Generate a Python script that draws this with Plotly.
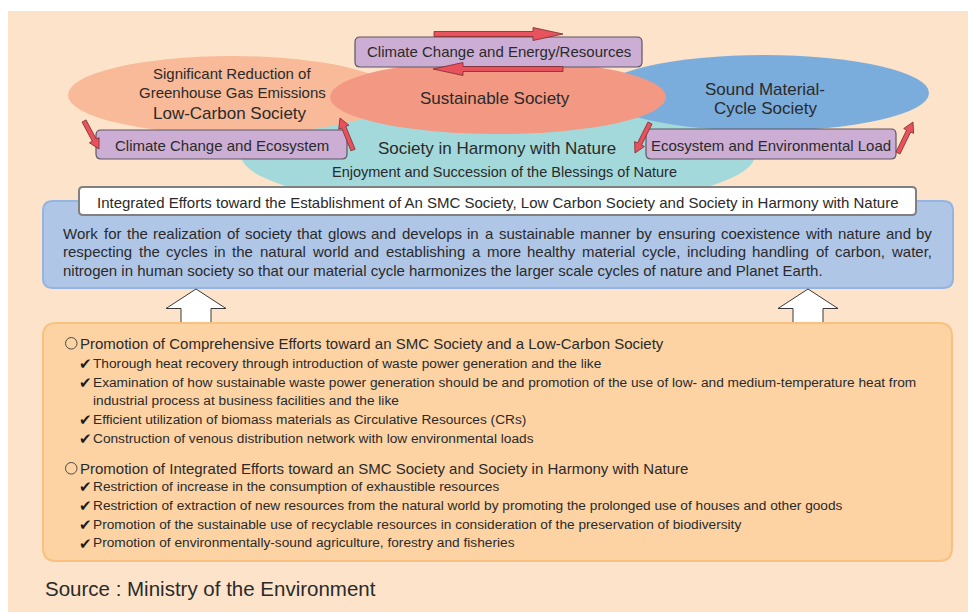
import math
import plotly.graph_objects as go

W, H = 976, 612
OFF = 8  # default page margin of the html body
FONT = "Liberation Sans, Arial, Helvetica, sans-serif"
TXT = "#2a2a2a"

# ---------------- text content ----------------
ellipse_labels = ["Significant Reduction of", "Greenhouse Gas Emissions", "Low-Carbon Society",
                  "Sustainable Society", "Sound Material-", "Cycle Society",
                  "Society in Harmony with Nature", "Enjoyment and Succession of the Blessings of Nature"]
link_labels = ["Climate Change and Energy/Resources", "Climate Change and Ecosystem",
               "Ecosystem and Environmental Load"]
banner_title = ("Integrated Efforts toward the Establishment of An SMC Society, "
                "Low Carbon Society and Society in Harmony with Nature")
body_lines = [
    "Work for the realization of society that glows and develops in a sustainable manner by ensuring coexistence with nature and by",
    "respecting the cycles in the natural world and establishing a more healthy material cycle, including handling of carbon, water,",
    "nitrogen in human society so that our material cycle harmonizes the larger scale cycles of nature and Planet Earth.",
]
header1 = "Promotion of Comprehensive Efforts toward an SMC Society and a Low-Carbon Society"
items1 = [
    "Thorough heat recovery through introduction of waste power generation and the like",
    "Examination of how sustainable waste power generation should be and promotion of the use of low- and medium-temperature heat from",
    "Efficient utilization of biomass materials as Circulative Resources (CRs)",
    "Construction of venous distribution network with low environmental loads",
]
item1_wrap = "industrial process at business facilities and the like"
header2 = "Promotion of Integrated Efforts toward an SMC Society and Society in Harmony with Nature"
items2 = [
    "Restriction of increase in the consumption of exhaustible resources",
    "Restriction of extraction of new resources from the natural world by promoting the prolonged use of houses and other goods",
    "Promotion of the sustainable use of recyclable resources in consideration of the preservation of biodiversity",
    "Promotion of environmentally-sound agriculture, forestry and fisheries",
]
source_text = "Source : Ministry of the Environment"

# Helvetica/Arial advance widths (per 1000 em) for justification
HW = {' ': 278, ',': 278, '.': 278, '-': 333, '/': 278, '(': 333, ')': 333, ':': 278}
HW.update(dict(zip("ABCDEFGHIJKLMNOPQRSTUVWXYZ",
                   [667, 667, 722, 722, 667, 611, 778, 722, 278, 500, 667, 556, 833, 722, 778, 667, 778,
                    722, 667, 611, 722, 667, 944, 667, 667, 611])))
HW.update(dict(zip("abcdefghijklmnopqrstuvwxyz",
                   [556, 556, 500, 556, 556, 278, 556, 556, 222, 222, 500, 222, 833, 556, 556, 556, 556,
                    333, 500, 278, 556, 500, 722, 500, 500, 500])))


def tw(s, fs):
    return sum(HW.get(c, 556) for c in s) / 1000.0 * fs


def rrect(x0, y0, x1, y1, r):
    return (f"M{x0+r},{y0} L{x1-r},{y0} Q{x1},{y0} {x1},{y0+r} L{x1},{y1-r} Q{x1},{y1} {x1-r},{y1} "
            f"L{x0+r},{y1} Q{x0},{y1} {x0},{y1-r} L{x0},{y0+r} Q{x0},{y0} {x0+r},{y0} Z")


def arrow_path(tx, ty, hx, hy, sw, hw, hl):
    dx, dy = hx - tx, hy - ty
    L = math.hypot(dx, dy)
    ux, uy = dx / L, dy / L
    px, py = -uy, ux
    bx, by = hx - ux * hl, hy - uy * hl
    pts = [(tx + px * sw / 2, ty + py * sw / 2), (bx + px * sw / 2, by + py * sw / 2),
           (bx + px * hw / 2, by + py * hw / 2), (hx, hy),
           (bx - px * hw / 2, by - py * hw / 2), (bx - px * sw / 2, by - py * sw / 2),
           (tx - px * sw / 2, ty - py * sw / 2)]
    return "M" + " L".join(f"{x:.1f},{y:.1f}" for x, y in pts) + " Z"


shapes = []
ann = []


def text(x, y, s, size, xanchor="center", color=TXT):
    ann.append(dict(x=x, y=y, xref="x", yref="y", text=s, showarrow=False, xanchor=xanchor,
                    yanchor="middle", borderpad=0, borderwidth=0,
                    font=dict(family=FONT, size=size, color=color)))


# background
shapes.append(dict(type="rect", x0=7, y0=11, x1=W + OFF, y1=H + OFF, fillcolor="#FDE3C9",
                   line=dict(width=0), layer="below"))

# ellipses (teal, salmon, blue, pink)
ell = [((241, 100, 755, 210), "#A3D9DA"),
       ((68, 56, 396, 134), "#F8BA98"),
       ((599, 55, 929, 131), "#7AACDC"),
       ((330, 60, 666, 134), "#F39883")]
for (x0, y0, x1, y1), c in ell:
    shapes.append(dict(type="circle", x0=x0, y0=y0, x1=x1, y1=y1, fillcolor=c, line=dict(width=0)))

# purple link boxes
pboxes = [(355, 37, 642, 67), (96, 130, 347, 159), (646, 129, 896, 159)]
for x0, y0, x1, y1 in pboxes:
    shapes.append(dict(type="path", path=rrect(x0, y0, x1, y1, 5), fillcolor="#CCAED5",
                       line=dict(color="#5c5660", width=1.2)))

# red arrows
red = [((434, 34), (563, 34), 5, 13, 30),
       ((563, 69), (433, 69), 5, 13, 30),
       ((84, 121), (99, 149), 4.5, 11, 10),
       ((353, 150), (340, 118), 4.5, 11, 10),
       ((650, 123), (635, 153), 4.5, 11, 10),
       ((898, 153), (913, 122), 4.5, 11, 10)]
for (tx, ty), (hx, hy), sw, hw, hl in red:
    shapes.append(dict(type="path", path=arrow_path(tx, ty, hx, hy, sw, hw, hl), fillcolor="#E8525C",
                       line=dict(color="#7a2a2e", width=0.8)))

# blue body box
shapes.append(dict(type="path", path=rrect(43, 201, 953, 288, 10), fillcolor="#B0C6E7",
                   line=dict(color="#94B5E1", width=2)))
# white banner
shapes.append(dict(type="path", path=rrect(79, 187, 916, 215, 4), fillcolor="white",
                   line=dict(color="#808080", width=2)))

# white up arrows
for cx in (196, 808):
    pts = [(cx, 289), (cx + 30, 308.5), (cx + 15, 308.5), (cx + 15, 322.5), (cx - 15, 322.5),
           (cx - 15, 308.5), (cx - 30, 308.5)]
    shapes.append(dict(type="path", path="M" + " L".join(f"{x},{y}" for x, y in pts) + " Z",
                       fillcolor="white", line=dict(color="#3a3a3a", width=1)))

# orange box
shapes.append(dict(type="path", path=rrect(43, 323, 952, 561, 13), fillcolor="#FDD3A4",
                   line=dict(color="#F9C07F", width=2)))

# ---------------- texts ----------------
text(232, 73, ellipse_labels[0], 15)
text(232, 92, ellipse_labels[1], 15)
text(230, 113, ellipse_labels[2], 17)
text(495, 98, ellipse_labels[3], 17)
text(765, 89, ellipse_labels[4], 17)
text(765, 108, ellipse_labels[5], 17)
text(497, 148.5, ellipse_labels[6], 17)
text(504, 171.5, ellipse_labels[7], 14.5)

text(498.5, 51.5, link_labels[0], 15)
text(221.5, 145.5, link_labels[1], 15)
text(771, 145.5, link_labels[2], 15)

text(498, 202.5, banner_title, 15)

# justified body text
BX0, BX1, BFS = 63, 932, 15
body_y = [233.3, 251.7, 270]
for i, line in enumerate(body_lines):
    if i < 2:
        words = line.split(" ")
        widths = [tw(w, BFS) for w in words]
        gap = (BX1 - BX0 - sum(widths)) / (len(words) - 1)
        x = BX0
        for w, wd in zip(words, widths):
            text(x, body_y[i], w, BFS, xanchor="left")
            x += wd + gap
    else:
        text(BX0, body_y[i], line, BFS, xanchor="left")


# orange box lists
def header(y, s):
    shapes.append(dict(type="circle", x0=65.5, y0=y - 5.8, x1=77, y1=y + 5.8, fillcolor="rgba(0,0,0,0)",
                       line=dict(color="#4a4a4a", width=1)))
    text(79.5, y, s, 15, xanchor="left")


def item(y, s):
    text(79, y + 0.5, "\u2714", 15, xanchor="left", color="#1a1a1a")
    text(92.5, y, s, 13.7, xanchor="left")


header(343.3, header1)
iy1 = [363.3, 382, 419.3, 438.3]
for y, s in zip(iy1, items1):
    item(y, s)
text(92.5, 400.7, item1_wrap, 13.7, xanchor="left")

header(468.3, header2)
iy2 = [486.3, 505, 524, 542.7]
for y, s in zip(iy2, items2):
    item(y, s)

text(45, 588.5, source_text, 20.5, xanchor="left")

fig = go.Figure()
fig.update_layout(
    width=W, height=H, margin=dict(l=0, r=0, t=0, b=0),
    paper_bgcolor="white", plot_bgcolor="white",
    xaxis=dict(range=[OFF, W + OFF], visible=False, fixedrange=True),
    yaxis=dict(range=[H + OFF, OFF], visible=False, fixedrange=True),
    shapes=shapes, annotations=ann, showlegend=False,
)
fig.write_html("out.html")
